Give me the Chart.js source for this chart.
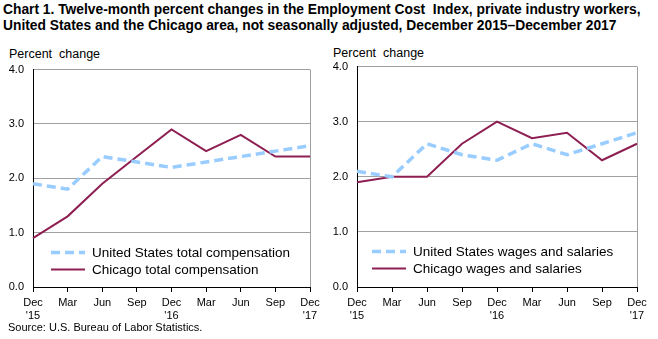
<!DOCTYPE html>
<html><head><meta charset="utf-8">
<script src="https://cdn.jsdelivr.net/npm/chart.js@4/dist/chart.umd.min.js"></script>
<style>
html,body{margin:0;padding:0;background:#fff;}
body{width:658px;height:339px;position:relative;overflow:hidden;font-family:"Liberation Sans",Arial,sans-serif;}
#title{position:absolute;left:3px;top:2px;font-family:"Liberation Sans",Arial,sans-serif;font-weight:bold;font-size:13.8px;line-height:16px;color:#000;white-space:nowrap;}
.pc{position:absolute;font-size:12.5px;color:#000;}
#src{position:absolute;left:8px;top:321px;font-size:11px;color:#000;}
.cw{position:absolute;}
</style></head><body>
<div id="title">Chart 1. Twelve-month percent changes in the Employment Cost&nbsp; Index, private industry workers,<br>United States and the Chicago area, not seasonally adjusted, December 2015–December 2017</div>
<div class="pc" style="left:9px;top:47px;">Percent&nbsp; change</div>
<div class="pc" style="left:333px;top:46px;">Percent&nbsp; change</div>
<div class="cw" style="left:0;top:54px;width:325px;height:268px;"><canvas id="c1"></canvas></div>
<div class="cw" style="left:330px;top:51px;width:328px;height:271px;"><canvas id="c2"></canvas></div>
<div id="src">Source: U.S. Bureau of Labor Statistics.</div>
<script>
const quarters = [["Dec","'15"],"Mar","Jun","Sep",["Dec","'16"],"Mar","Jun","Sep",["Dec","'17"]];
const yTicks = [0,1,2,3,4];
const usTotalComp = [1.9,1.8,2.4,2.3,2.2,2.3,2.4,2.5,2.6];
const chicagoTotalComp = [0.9,1.3,1.9,2.4,2.9,2.5,2.8,2.4,2.4];
const usWages = [2.1,2.0,2.6,2.4,2.3,2.6,2.4,2.6,2.8];
const chicagoWages = [1.9,2.0,2.0,2.6,3.0,2.7,2.8,2.3,2.6];
const labelsLeft = ["United States total compensation","Chicago total compensation"];
const labelsRight = ["United States wages and salaries","Chicago wages and salaries"];

const BLUE = "#99ccff", MAROON = "#8e1f52";

const frame = {
  id:'frame',
  afterDatasetsDraw(chart){
    const {ctx, chartArea:a} = chart;
    ctx.save();
    ctx.strokeStyle = "#a0a0a0"; ctx.lineWidth = 1;
    ctx.beginPath(); ctx.moveTo(Math.round(a.right)+0.5, a.top); ctx.lineTo(Math.round(a.right)+0.5, a.bottom); ctx.stroke();
    ctx.restore();
  }
};
const inLegend = {
  id:'inLegend',
  afterDraw(chart, args, opts){
    const {ctx, chartArea:a} = chart;
    ctx.save();
    chart.data.datasets.forEach((ds,i)=>{
      const y = a.top + opts.y + i*17;
      ctx.strokeStyle = ds.borderColor; ctx.lineWidth = ds.borderWidth;
      ctx.setLineDash(ds.borderDash || []);
      ctx.beginPath(); ctx.moveTo(a.left+opts.x, y); ctx.lineTo(a.left+opts.x+34, y); ctx.stroke();
      ctx.setLineDash([]);
      ctx.fillStyle="#000"; ctx.font = "13.5px 'Liberation Sans', Arial, sans-serif";
      ctx.textBaseline="middle"; ctx.textAlign="left";
      ctx.fillText(ds.label, a.left+opts.x+41, y+1);
    });
    ctx.restore();
  }
};

function makeChart(id, us, chi, labels, yw, padRight, padTop, legX, legY){
  new Chart(document.getElementById(id), {
    type:'line',
    data:{labels:quarters, datasets:[
      {label:labels[0], data:us, borderColor:BLUE, borderWidth:3.5, borderDash:[9,5], pointRadius:0, tension:0, fill:false},
      {label:labels[1], data:chi, borderColor:MAROON, borderWidth:2, pointRadius:0, tension:0, fill:false}
    ]},
    options:{
      responsive:true, maintainAspectRatio:false, animation:false,
      layout:{padding:{top:padTop,right:padRight,left:0,bottom:0}},
      plugins:{legend:{display:false}, tooltip:{enabled:false}, inLegend:{x:legX,y:legY}},
      scales:{
        x:{
          offset:false,
          grid:{drawOnChartArea:false, drawTicks:true, tickLength:5, color:"#000", tickColor:"#000"},
          border:{color:"#000", width:1},
          ticks:{color:"#000", font:{size:11, family:"'Liberation Sans', Arial, sans-serif"}, padding:4, maxRotation:0, autoSkip:false},
          afterFit(s){ s.height = 35; }
        },
        y:{
          min:0, max:4,
          afterBuildTicks(s){ s.ticks = yTicks.map(v=>({value:v})); },
          grid:{color:(c)=> c.tick && c.tick.value===0 ? "rgba(0,0,0,0)" : "#a0a0a0", drawTicks:false, lineWidth:1},
          border:{color:"#000", width:1},
          ticks:{color:"#000", font:{size:11, family:"'Liberation Sans', Arial, sans-serif"}, padding:9, callback:(v)=>Number(v).toFixed(1)},
          afterFit(s){ s.width = yw; }
        }
      }
    },
    plugins:[frame, inLegend]
  });
}
makeChart('c1', usTotalComp, chicagoTotalComp, labelsLeft, 33, 15, 1, 18, 183);
makeChart('c2', usWages, chicagoWages, labelsRight, 27, 21, 2, 15, 185);
</script>
</body></html>
